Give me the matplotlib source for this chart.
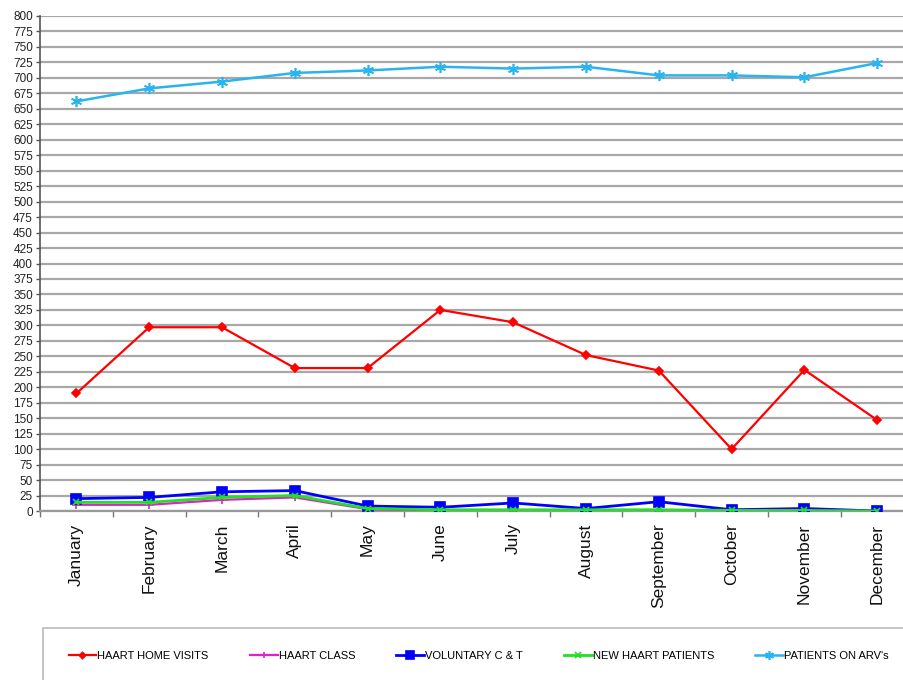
import matplotlib
matplotlib.use("Agg")
import matplotlib.pyplot as plt
from matplotlib.patches import Rectangle

months = ["January", "February", "March", "April", "May", "June", "July",
          "August", "September", "October", "November", "December"]
home_visits = [190, 297, 297, 231, 231, 325, 305, 252, 227, 100, 228, 147]
haart_class = [10, 10, 18, 22, 3, 0, 0, 0, 0, 0, 0, 0]
voluntary_ct = [20, 22, 31, 33, 8, 6, 13, 4, 15, 2, 4, 0]
new_patients = [14, 14, 22, 25, 4, 2, 2, 2, 2, 1, 1, 0]
on_arvs = [662, 683, 694, 708, 712, 718, 715, 718, 704, 704, 701, 724]
y_ticks = list(range(0, 801, 25))

plt.rcParams['font.family'] = ['Liberation Sans', 'DejaVu Sans']

W, H = 904, 680
fig = plt.figure(figsize=(W / 100, H / 100), dpi=100)
ax = fig.add_axes([40 / W, (H - 511) / H, 873.6 / W, 495 / H])

x = list(range(len(months)))
series = [
    (home_visits, "HAART HOME VISITS", "#FF0000", "D", 4, 1.6),
    (haart_class, "HAART CLASS", "#E020C8", "+", 6, 1.6),
    (voluntary_ct, "VOLUNTARY C & T", "#0000FF", "s", 7, 2.0),
    (new_patients, "NEW HAART PATIENTS", "#22E022", "x", 5, 2.0),
    (on_arvs, "PATIENTS ON ARV's", "#2AB4EE", (6, 2, 0), 8, 1.8),
]
handles = []
for vals, name, col, mk, ms, lw in series:
    h, = ax.plot(x, vals, color=col, marker=mk, markersize=ms, linewidth=lw,
                 markeredgecolor=col, markerfacecolor=col, markeredgewidth=1.2,
                 label=name, zorder=3)
    handles.append(h)

ax.set_xlim(-0.5, 11.5)
ax.set_ylim(0, 800)
ax.set_yticks(y_ticks)
ax.set_yticklabels([str(v) for v in y_ticks], fontsize=8.5, color="#222222")
ax.tick_params(axis='y', length=3, width=1, color="#555555", pad=2)
ax.set_xticks(x)
ax.set_xticklabels(months, rotation=90, fontsize=12.5, color="#111111")
ax.tick_params(axis='x', which='major', length=0, pad=9)
ax.set_xticks([i - 0.5 for i in range(13)], minor=True)
ax.tick_params(axis='x', which='minor', length=4, width=1, color="#777777")

ax.yaxis.grid(True, color="#A8A8A8", linewidth=1.6, zorder=0)
ax.set_axisbelow(True)
for s in ['top', 'right']:
    ax.spines[s].set_visible(False)
ax.spines['left'].set_color("#555555")
ax.spines['left'].set_linewidth(1.2)
ax.spines['bottom'].set_color("#999999")
ax.spines['bottom'].set_linewidth(1.6)

fig.patches.append(Rectangle((43 / W, -0.05), 0.99, (H - 628) / H + 0.05,
                             transform=fig.transFigure, fill=False,
                             edgecolor="#BBBBBB", linewidth=1.2))
leg = fig.legend(handles=handles, loc='center left', ncol=5,
                 bbox_to_anchor=(63 / W, (H - 656) / H), frameon=False,
                 fontsize=8, handlelength=2.5, handletextpad=0.1,
                 columnspacing=3.7, markerscale=0.8, borderpad=0)

fig.savefig("out.png", dpi=100)
